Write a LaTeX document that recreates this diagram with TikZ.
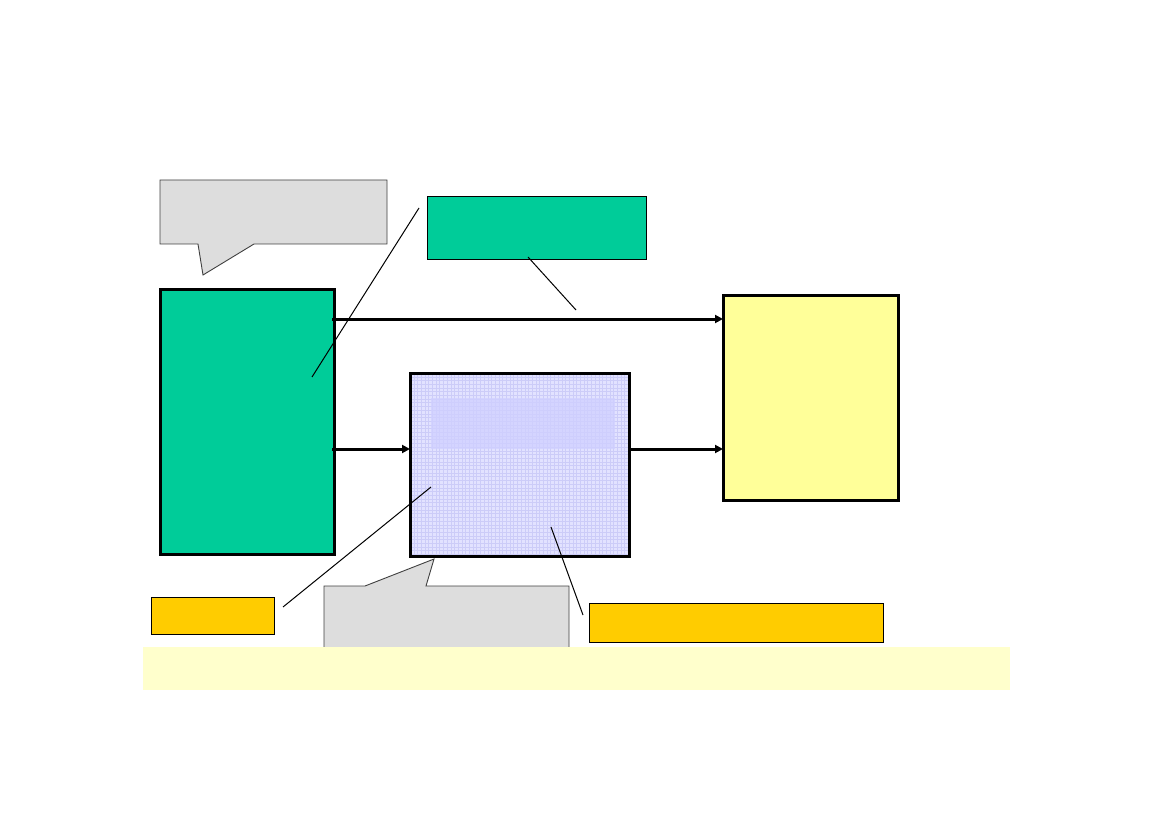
\documentclass[tikz,border=0pt]{standalone}
\usetikzlibrary{arrows.meta}
\definecolor{teal1}{HTML}{00CC99}
\definecolor{yel1}{HTML}{FFFF99}
\definecolor{lav}{HTML}{E2E2FF}
\definecolor{lavgrid}{HTML}{CCCCF8}
\definecolor{lavhi}{HTML}{D0D0FF}
\definecolor{orng}{HTML}{FFCC00}
\definecolor{band}{HTML}{FFFFCC}
\definecolor{callg}{HTML}{DDDDDD}
\tikzset{
  thickbox/.style={draw=black, line width=3pt, inner sep=0pt, outer sep=0pt, anchor=north west},
  thinbox/.style={draw=black, line width=1pt, inner sep=0pt, outer sep=0pt, anchor=north west},
  callout/.style={draw=black!75, line width=0.9pt, fill=callg, line join=miter},
  flow/.style={line width=3pt, -{Triangle[length=8pt,width=8pt]}},
  leader/.style={line width=1pt},
}
\begin{document}
\begin{tikzpicture}[x=1pt,y=-1pt]
\useasboundingbox (0,0) rectangle (1169,826);
% callout top left
\path[callout] (160,180) -- (387,180) -- (387,244) -- (254,244) -- (203,275) -- (198,244) -- (160,244) -- cycle;
% boxes
\node[thinbox, fill=teal1, minimum width=219pt, minimum height=63pt] (tbox) at (427,197) {};
\node[thickbox, fill=teal1, minimum width=174pt, minimum height=265pt] (src) at (160,289) {};
\node[thickbox, fill=yel1, minimum width=175pt, minimum height=205pt] (dst) at (723,295) {};
\node[thickbox, draw=none, fill=lav, minimum width=219pt, minimum height=183pt] (mid) at (410,373) {};
\begin{scope}
  \clip (mid.north west) rectangle (mid.south east);
  \foreach \i in {0,...,60} {
    \draw[lavgrid, line width=0.4pt] (410+3.7*\i,373) -- (410+3.7*\i,556);
    \draw[lavgrid, line width=0.4pt] (410,373+3.7*\i) -- (629,373+3.7*\i);
  }
  \fill[lavhi, opacity=0.75] (431,398) rectangle (615,449);
\end{scope}
\draw[line width=3pt] (mid.north west) rectangle (mid.south east);
% flows
\coordinate (s1) at (332,319);
\coordinate (s2) at (332,449);
\draw[flow] (s1) -- (dst.west |- s1);
\draw[flow] (s2) -- (mid.west |- s2);
\draw[flow] (mid.east |- s2) -- (dst.west |- s2);
% orange boxes
\node[thinbox, fill=orng, minimum width=123pt, minimum height=37pt] (olbox) at (151,597) {};
\node[thinbox, fill=orng, minimum width=294pt, minimum height=39pt] (orbox) at (589,603) {};
% callout bottom
\path[callout] (324,688) -- (324,586) -- (365,586) -- (434,559) -- (426,586) -- (569,586) -- (569,688);
% band
\node[fill=band, inner sep=0pt, outer sep=0pt, anchor=north west, minimum width=867pt, minimum height=43pt] (bandn) at (143,647) {};
% leaders
\coordinate (l1a) at (419,208); \coordinate (l1b) at (312,377);
\coordinate (l2a) at (528,257); \coordinate (l2b) at (576,310);
\coordinate (l3a) at (431,487); \coordinate (l3b) at (283,607);
\coordinate (l4a) at (551,527); \coordinate (l4b) at (583,615);
\draw[leader] (l1a) -- (l1b);
\draw[leader] (l2a) -- (l2b);
\draw[leader] (l3a) -- (l3b);
\draw[leader] (l4a) -- (l4b);
\end{tikzpicture}
\end{document}
